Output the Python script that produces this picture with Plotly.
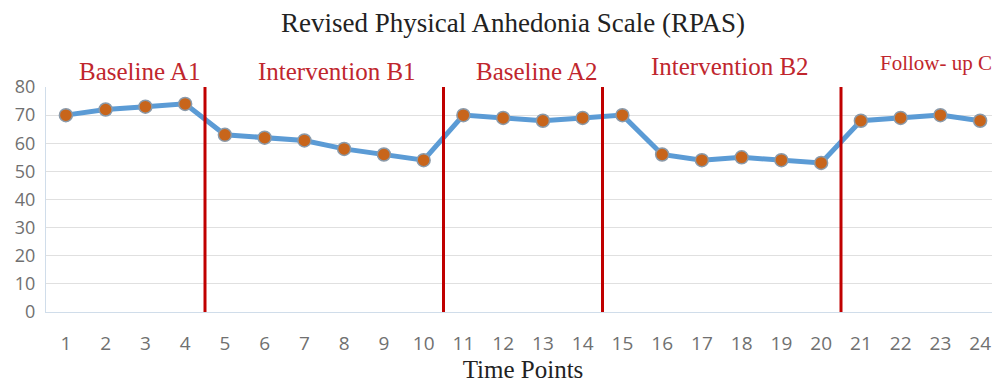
import plotly.graph_objects as go

time_points = list(range(1, 25))
rpas_scores = [70, 72, 73, 74, 63, 62, 61, 58, 56, 54, 70, 69, 68, 69, 70, 56, 54, 55, 54, 53, 68, 69, 70, 68]
phase_boundaries = [4.5, 10.5, 14.5, 20.5]
phase_labels = ["Baseline A1", "Intervention B1", "Baseline A2", "Intervention B2", "Follow- up C"]
phase_label_x = [2.86, 7.82, 12.85, 17.71, 22.89]
phase_label_y = [1.067, 1.067, 1.067, 1.089, 1.107]
phase_label_size = [25, 25, 25, 25, 21]
y_ticks = [0, 10, 20, 30, 40, 50, 60, 70, 80]

fig = go.Figure()
fig.add_trace(go.Scatter(
    x=time_points, y=rpas_scores, mode="lines+markers",
    line=dict(color="#5B9BD5", width=5),
    marker=dict(color="#C8651B", size=13, line=dict(color="#8A9AAA", width=1.5)),
    showlegend=False, cliponaxis=False,
))

for xb in phase_boundaries:
    fig.add_shape(type="line", x0=xb, x1=xb, y0=0, y1=81, xref="x", yref="y",
                  line=dict(color="#C00000", width=3), layer="above")

for lbl, lx, ly, ls in zip(phase_labels, phase_label_x, phase_label_y, phase_label_size):
    fig.add_annotation(x=lx, y=ly, text=lbl, showarrow=False, xref="x", yref="paper",
                       yanchor="middle",
                       font=dict(family="Liberation Serif", size=ls, color="#C0262D"))

fig.update_layout(
    width=1000, height=386,
    margin=dict(l=38, r=8, t=79, b=82),
    paper_bgcolor="white", plot_bgcolor="white",
    title=dict(text="Revised Physical Anhedonia Scale (RPAS)", x=0.505, xanchor="center",
               y=0.962, yanchor="middle",
               font=dict(family="Liberation Serif", size=27, color="#222222")),
)
fig.update_xaxes(
    range=[0.5, 24.5], tickmode="array", tickvals=time_points,
    ticktext=[str(t) for t in time_points], automargin=False,
    showgrid=False, zeroline=False, showline=True, linecolor="#D0DDEA", linewidth=1,
    tickfont=dict(family="Open Sans", size=19, color="#707070"), ticklen=0, ticks="",
    ticklabelstandoff=14,
    title=dict(text="Time Points", standoff=4,
               font=dict(family="Liberation Serif", size=25, color="#222222")),
)
fig.update_yaxes(
    range=[0, 80], tickmode="array", tickvals=y_ticks, automargin=False,
    showgrid=True, gridcolor="#E0E0E0", gridwidth=1, zeroline=False,
    showline=True, linecolor="#D0DDEA", linewidth=1,
    tickfont=dict(family="Open Sans", size=18, color="#707070"), ticks="",
    ticklabelstandoff=6,
)

fig.write_html("out.html")
